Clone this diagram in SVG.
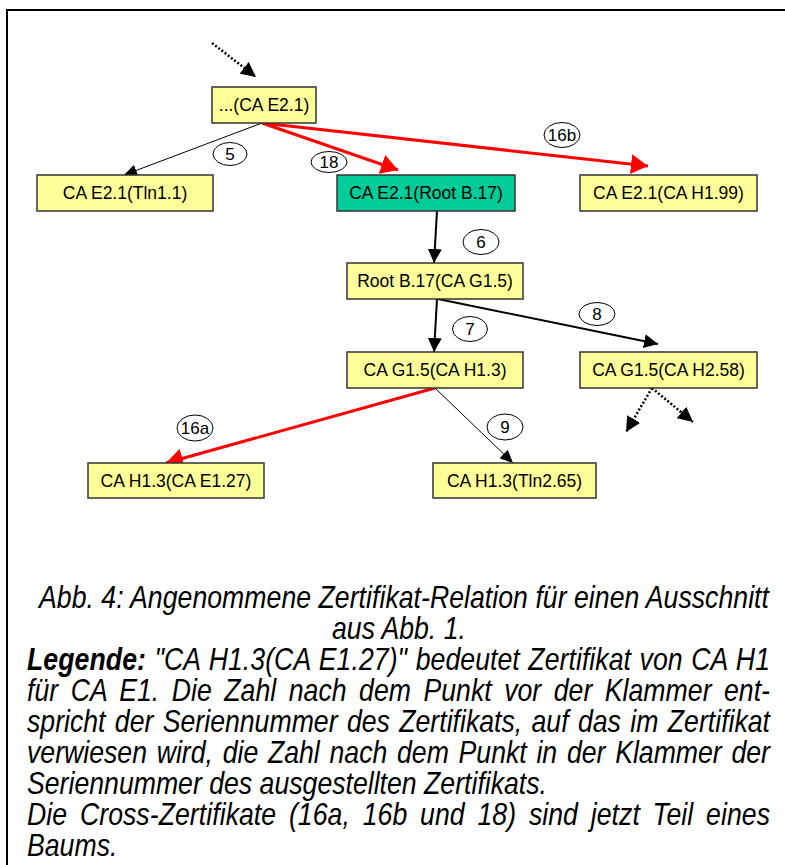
<svg xmlns="http://www.w3.org/2000/svg" width="785" height="865" viewBox="0 0 785 865">
  <style>
    .box { fill: #FFFF99; stroke: #333333; stroke-width: 1.5; }
    .root { fill: #00CC99; stroke: #333333; stroke-width: 1.5; }
    .lbl { font-family: "Liberation Sans", Arial, sans-serif; font-size: 17.5px; fill: #000; text-anchor: middle; }
    .tag { fill: #FFFFFF; stroke: #000; stroke-width: 1; }
    .tagt { font-family: "Liberation Sans", Arial, sans-serif; font-size: 17px; fill: #000; text-anchor: middle; }
    .thin { stroke: #000; stroke-width: 1; fill: none; }
    .thick { stroke: #000; stroke-width: 2; fill: none; }
    .red { stroke: #FF0000; stroke-width: 3; fill: none; }
    .dot { stroke: #000; stroke-width: 2.5; stroke-dasharray: 2 2; fill: none; }
    .cap { font-family: "Liberation Sans", Arial, sans-serif; font-style: italic; font-size: 31px; fill: #000; }
  </style>
  <defs>
    <marker id="ahBlack" markerUnits="userSpaceOnUse" markerWidth="14" markerHeight="14" refX="14" refY="7" orient="auto">
      <path d="M0,0 L14,7 L0,14 z" fill="#000"/>
    </marker>
    <marker id="ahThin" markerUnits="userSpaceOnUse" markerWidth="13" markerHeight="12" refX="13" refY="6" orient="auto">
      <path d="M0,0 L13,6 L0,12 z" fill="#000"/>
    </marker>
    <marker id="ahRed" markerUnits="userSpaceOnUse" markerWidth="17" markerHeight="20" refX="17" refY="10" orient="auto">
      <path d="M0,0 L17,10 L0,20 z" fill="#FF0000"/>
    </marker>
    <marker id="ahDot" markerUnits="userSpaceOnUse" markerWidth="15" markerHeight="15" refX="15" refY="7.5" orient="auto">
      <path d="M0,0 L15,7.5 L0,15 z" fill="#000"/>
    </marker>
  </defs>

  <rect width="785" height="865" fill="#FFFFFF"/>
  <!-- frame -->
  <path d="M7,865 L7,10 L785,10" fill="none" stroke="#000" stroke-width="2"/>

  <!-- connectors -->
  <g id="connectors">
    <line class="dot" x1="212" y1="43" x2="256" y2="77" marker-end="url(#ahDot)"/>
    <line class="thin" x1="262" y1="123" x2="124" y2="175" marker-end="url(#ahThin)"/>
    <line class="red" x1="262" y1="123" x2="398" y2="170" marker-end="url(#ahRed)"/>
    <line class="red" x1="262" y1="123" x2="648" y2="166" marker-end="url(#ahRed)"/>
    <line class="thick" x1="437" y1="211" x2="434" y2="263" marker-end="url(#ahBlack)"/>
    <line class="thick" x1="437" y1="299" x2="434" y2="352" marker-end="url(#ahBlack)"/>
    <line class="thick" x1="438" y1="299" x2="658" y2="344" marker-end="url(#ahBlack)"/>
    <line class="red" x1="435" y1="388" x2="166" y2="463" marker-end="url(#ahRed)"/>
    <line class="thin" x1="435" y1="388" x2="513" y2="463" marker-end="url(#ahThin)"/>
    <line class="dot" x1="652" y1="388" x2="626" y2="432" marker-end="url(#ahDot)"/>
    <line class="dot" x1="652" y1="388" x2="693" y2="422" marker-end="url(#ahDot)"/>

    <!-- edge numbers -->
    <ellipse class="tag" cx="230" cy="154" rx="17" ry="11.5"/>
    <text class="tagt" x="230" y="160">5</text>
    <ellipse class="tag" cx="329" cy="162" rx="18" ry="10.5"/>
    <text class="tagt" x="329" y="168">18</text>
    <ellipse class="tag" cx="562" cy="135" rx="18" ry="12.5"/>
    <text class="tagt" x="562" y="141">16b</text>
    <ellipse class="tag" cx="481" cy="242" rx="18" ry="12.5"/>
    <text class="tagt" x="481" y="248">6</text>
    <ellipse class="tag" cx="470" cy="329" rx="17.5" ry="12.5"/>
    <text class="tagt" x="470" y="335">7</text>
    <ellipse class="tag" cx="597" cy="314" rx="18" ry="11.5"/>
    <text class="tagt" x="597" y="320">8</text>
    <ellipse class="tag" cx="505" cy="427" rx="18" ry="13"/>
    <text class="tagt" x="505" y="433">9</text>
    <ellipse class="tag" cx="195" cy="428" rx="18" ry="13"/>
    <text class="tagt" x="195" y="434">16a</text>
  </g>

  <!-- nodes -->
  <g id="n-top">
    <rect class="box" x="212" y="87" width="104" height="36"/>
    <text class="lbl" x="264" y="111">...(CA E2.1)</text>
  </g>
  <g id="n-e21-tln11">
    <rect class="box" x="37" y="175" width="176" height="36"/>
    <text class="lbl" x="125" y="199">CA E2.1(Tln1.1)</text>
  </g>
  <g id="n-e21-rootb17">
    <rect class="root" x="337" y="175" width="178" height="36"/>
    <text class="lbl" x="426" y="199">CA E2.1(Root B.17)</text>
  </g>
  <g id="n-e21-h199">
    <rect class="box" x="580" y="175" width="177" height="36"/>
    <text class="lbl" x="668.5" y="199">CA E2.1(CA H1.99)</text>
  </g>
  <g id="n-rootb17-g15">
    <rect class="box" x="347" y="263" width="176" height="36"/>
    <text class="lbl" x="435" y="287">Root B.17(CA G1.5)</text>
  </g>
  <g id="n-g15-h13">
    <rect class="box" x="347" y="352" width="176" height="36"/>
    <text class="lbl" x="435" y="376">CA G1.5(CA H1.3)</text>
  </g>
  <g id="n-g15-h258">
    <rect class="box" x="580" y="352" width="177" height="36"/>
    <text class="lbl" x="668.5" y="376">CA G1.5(CA H2.58)</text>
  </g>
  <g id="n-h13-e127">
    <rect class="box" x="88" y="463" width="176" height="35"/>
    <text class="lbl" x="176" y="487">CA H1.3(CA E1.27)</text>
  </g>
  <g id="n-h13-tln265">
    <rect class="box" x="433" y="463" width="163" height="35"/>
    <text class="lbl" x="514.5" y="487">CA H1.3(Tln2.65)</text>
  </g>

  <!-- caption and legend: condensed italic, justified lines via word-spacing -->
  <g id="caption" transform="scale(0.86,1)">
    <text class="cap" x="45.35" y="608" textLength="848.8" lengthAdjust="spacing">Abb. 4: Angenommene Zertifikat-Relation für einen Ausschnitt</text>
    <text class="cap" x="463.95" y="639" text-anchor="middle">aus Abb. 1.</text>
    <text class="cap" x="31.4" y="670" word-spacing="1.2" textLength="863.95" lengthAdjust="spacing"><tspan font-weight="bold">Legende:</tspan> "CA H1.3(CA E1.27)" bedeutet Zertifikat von CA H1</text>
    <text class="cap" x="31.4" y="701" word-spacing="5.9" textLength="863.95" lengthAdjust="spacing">für CA E1. Die Zahl nach dem Punkt vor der Klammer ent-</text>
    <text class="cap" x="31.4" y="732" word-spacing="2.3" textLength="863.95" lengthAdjust="spacing">spricht der Seriennummer des Zertifikats, auf das im Zertifikat</text>
    <text class="cap" x="31.4" y="763" word-spacing="2.7" textLength="863.95" lengthAdjust="spacing">verwiesen wird, die Zahl nach dem Punkt in der Klammer der</text>
    <text class="cap" x="31.4" y="794">Seriennummer des ausgestellten Zertifikats.</text>
    <text class="cap" x="31.4" y="825" word-spacing="6.2" textLength="863.95" lengthAdjust="spacing">Die Cross-Zertifikate (16a, 16b und 18) sind jetzt Teil eines</text>
    <text class="cap" x="31.4" y="856">Baums.</text>
  </g>
</svg>
